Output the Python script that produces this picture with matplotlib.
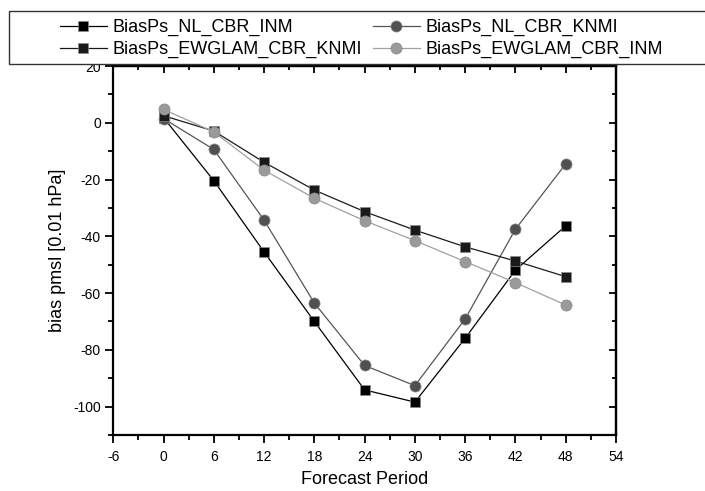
import numpy as np
from matplotlib import pyplot as plt
from matplotlib.patches import Rectangle

plt.rcParams['font.family'] = ['Liberation Sans', 'DejaVu Sans']
plt.rcParams['axes.unicode_minus'] = False

periods = [0, 6, 12, 18, 24, 30, 36, 42, 48]
nl_cbr_inm = [1.8, -20.4, -45.5, -70, -94.1, -98.4, -75.9, -51.9, -36.3]
nl_cbr_knmi = [1.5, -9.4, -34.3, -63.5, -85.5, -92.6, -69.1, -37.5, -14.5]
ewglam_cbr_knmi = [2.5, -2.9, -13.9, -23.7, -31.3, -37.8, -43.7, -48.7, -54.2]
ewglam_cbr_inm = [4.7, -3.2, -16.7, -26.6, -34.5, -41.5, -48.9, -56.3, -64.2]

# name, values, marker, face colour, line colour
series = [
    ('BiasPs_NL_CBR_INM', nl_cbr_inm, 's', '#000000', '#000000'),
    ('BiasPs_NL_CBR_KNMI', nl_cbr_knmi, 'o', '#505050', '#555555'),
    ('BiasPs_EWGLAM_CBR_KNMI', ewglam_cbr_knmi, 's', '#1a1a1a', '#1a1a1a'),
    ('BiasPs_EWGLAM_CBR_INM', ewglam_cbr_inm, 'o', '#9a9a9a', '#a0a0a0'),
]

fig = plt.figure(figsize=(7.05, 4.91), dpi=100)
ax = fig.add_axes([0.1607, 0.114, 0.713, 0.7515])

handles = {}
for name, vals, mk, col, lcol in series:
    h, = ax.plot(periods, vals, color=lcol, lw=0.9, marker=mk,
                 markersize=7.5 if mk == 's' else 8,
                 markerfacecolor=col, markeredgecolor='#8a8a8a', markeredgewidth=0.5,
                 label=name)
    handles[name] = h

ax.set_xlim(-6, 54)
ax.set_ylim(-110, 20)
xmaj = np.arange(-6, 55, 6)
xmin = np.arange(-6, 55, 3)
ymaj = np.arange(-100, 21, 20)
ymin = np.arange(-110, 21, 10)
ax.set_xticks(xmaj)
ax.set_xticks(xmin, minor=True)
ax.set_yticks(ymaj)
ax.set_yticks(ymin, minor=True)
ax.tick_params(which='both', direction='out', labelsize=10, width=1.3)
ax.tick_params(which='major', length=6)
ax.tick_params(which='minor', length=3.5)
ax.tick_params(axis='x', which='major', pad=5)
ax.tick_params(axis='y', which='major', pad=3)
for s in ax.spines.values():
    s.set_linewidth(1.6)

# inward ticks on top and right
top = ax.secondary_xaxis('top')
top.set_xticks(xmaj)
top.set_xticks(xmin, minor=True)
top.tick_params(which='both', direction='in', labeltop=False, width=1.3)
top.tick_params(which='major', length=5)
top.tick_params(which='minor', length=3)
right = ax.secondary_yaxis('right')
right.set_yticks(ymaj)
right.set_yticks(ymin, minor=True)
right.tick_params(which='both', direction='in', labelright=False, width=1.3)
right.tick_params(which='major', length=5)
right.tick_params(which='minor', length=3)
for a in (top, right):
    for s in a.spines.values():
        s.set_linewidth(1.6)

ax.set_xlabel('Forecast Period', fontsize=13, labelpad=5)
ax.set_ylabel('bias pmsl [0.01 hPa]', fontsize=13, labelpad=5)

frame = Rectangle((9 / 705, 1 - 64 / 491), 1.0, 53 / 491, transform=fig.transFigure,
                  facecolor='white', edgecolor='#333333', lw=1.0, zorder=5)
fig.patches.append(frame)

# two single-column legends so each column sits where the reference has it
columns = [(60, ['BiasPs_NL_CBR_INM', 'BiasPs_EWGLAM_CBR_KNMI']),
           (373, ['BiasPs_NL_CBR_KNMI', 'BiasPs_EWGLAM_CBR_INM'])]
for x0, names in columns:
    leg = fig.legend(handles=[handles[n] for n in names], loc='upper left',
                     bbox_to_anchor=(x0 / 705, 1 - 19 / 491),
                     fontsize=13, frameon=False,
                     handlelength=2.6, handletextpad=0.33,
                     borderpad=0.0, labelspacing=0.27, borderaxespad=0.0)
    leg.set_zorder(6)

fig.savefig('out.png', dpi=100)
